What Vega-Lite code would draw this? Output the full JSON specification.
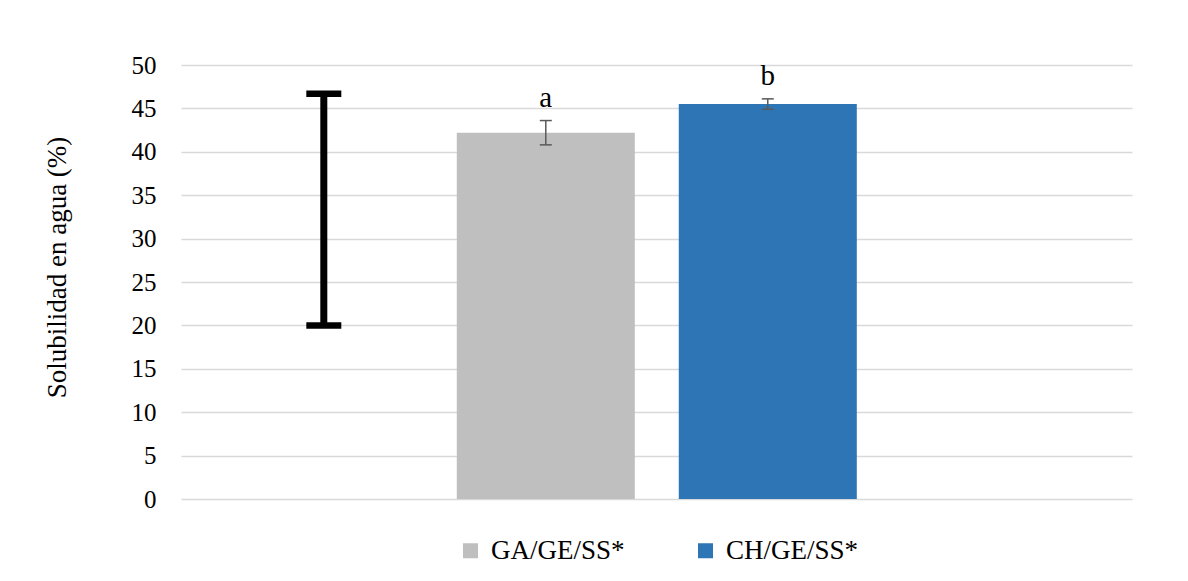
{
  "$schema": "https://vega.github.io/schema/vega-lite/v6.json",
  "width": 951,
  "height": 434,
  "autosize": {"type": "none"},
  "padding": {"left": 181, "top": 65, "right": 56, "bottom": 82},
  "background": "white",
  "config": {
    "view": {"stroke": null},
    "font": "Liberation Serif",
    "axis": {"labelFont": "Liberation Serif", "titleFont": "Liberation Serif"},
    "legend": {"labelFont": "Liberation Serif"}
  },
  "datasets": {
    "bars": [
      {"cat": "GA/GE/SS*", "val": 42.2, "lo": 40.8, "hi": 43.6, "lab": "a"},
      {"cat": "CH/GE/SS*", "val": 45.5, "lo": 44.9, "hi": 46.1, "lab": "b"}
    ],
    "rng": [
      {"cat": "R", "lo": 20.0, "hi": 46.7}
    ]
  },
  "encoding": {
    "x": {
      "field": "cat",
      "type": "nominal",
      "scale": {"domain": ["R", "GA/GE/SS*", "CH/GE/SS*"], "paddingInner": 0.198, "paddingOuter": 0.741, "align": 0.1635},
      "axis": null
    }
  },
  "layer": [
    {
      "data": {"name": "bars"},
      "mark": {"type": "bar"},
      "encoding": {
        "y": {
          "field": "val",
          "type": "quantitative",
          "scale": {"domain": [0, 50], "nice": false},
          "axis": {
            "values": [0, 5, 10, 15, 20, 25, 30, 35, 40, 45, 50],
            "title": "Solubilidad en agua (%)",
            "titleFont": "Liberation Serif",
            "titleFontSize": 27,
            "titleFontWeight": "normal",
            "titleColor": "#000000",
            "titleY": 202,
            "titleX": -124,
            "titleAlign": "center",
            "titleBaseline": "middle",
            "labelFont": "Liberation Serif",
            "labelFontSize": 25,
            "labelColor": "#000000",
            "labelPadding": 25,
            "ticks": false,
            "domain": false,
            "gridColor": "#D9D9D9",
            "gridWidth": 1.5
          }
        },
        "color": {
          "field": "cat",
          "type": "nominal",
          "scale": {"domain": ["GA/GE/SS*", "CH/GE/SS*"], "range": ["#BFBFBF", "#2E75B6"]},
          "legend": {
            "title": null,
            "orient": "none",
            "direction": "horizontal",
            "legendX": 276,
            "legendY": 472,
            "symbolType": "square",
            "symbolSize": 225,
            "symbolStrokeWidth": 0,
            "symbolOpacity": 1,
            "labelFont": "Liberation Serif",
            "labelFontSize": 27,
            "labelColor": "#000000",
            "labelOffset": 7,
            "columnPadding": 67,
            "padding": 0
          }
        }
      }
    },
    {
      "data": {"name": "bars"},
      "mark": {"type": "rule", "color": "#595959", "strokeWidth": 1.5},
      "encoding": {
        "y": {"field": "lo", "type": "quantitative"},
        "y2": {"field": "hi"}
      }
    },
    {
      "data": {"name": "bars"},
      "mark": {"type": "tick", "color": "#595959", "opacity": 1, "thickness": 1.5, "size": 12},
      "encoding": {"y": {"field": "lo", "type": "quantitative"}}
    },
    {
      "data": {"name": "bars"},
      "mark": {"type": "tick", "color": "#595959", "opacity": 1, "thickness": 1.5, "size": 12},
      "encoding": {"y": {"field": "hi", "type": "quantitative"}}
    },
    {
      "data": {"name": "bars"},
      "mark": {"type": "text", "font": "Liberation Serif", "fontSize": 29, "color": "#000000", "baseline": "alphabetic", "dy": -14},
      "encoding": {
        "y": {"field": "hi", "type": "quantitative"},
        "text": {"field": "lab"}
      }
    },
    {
      "data": {"name": "rng"},
      "mark": {"type": "rule", "color": "#000000", "strokeWidth": 7},
      "encoding": {
        "y": {"field": "lo", "type": "quantitative"},
        "y2": {"field": "hi"}
      }
    },
    {
      "data": {"name": "rng"},
      "mark": {"type": "tick", "color": "#000000", "opacity": 1, "thickness": 6.5, "size": 35},
      "encoding": {"y": {"field": "lo", "type": "quantitative"}}
    },
    {
      "data": {"name": "rng"},
      "mark": {"type": "tick", "color": "#000000", "opacity": 1, "thickness": 6.5, "size": 35},
      "encoding": {"y": {"field": "hi", "type": "quantitative"}}
    }
  ]
}
